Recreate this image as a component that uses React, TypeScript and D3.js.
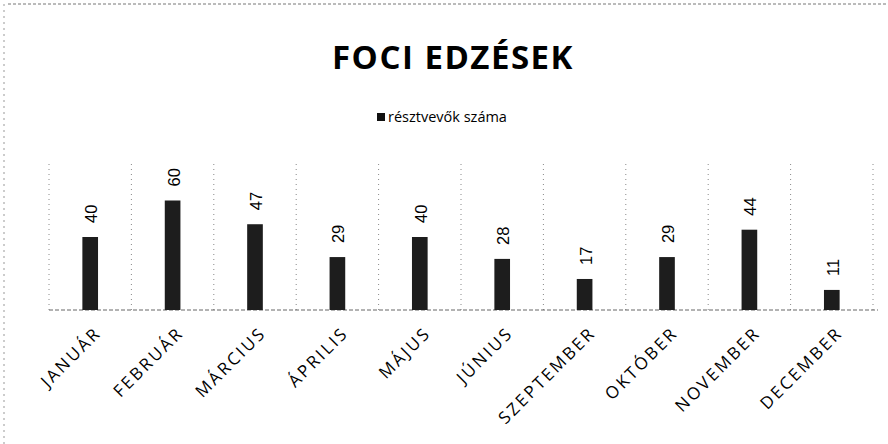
import React, { useEffect, useRef } from "react";
import * as d3 from "d3";

const months = [
  "JANUÁR",
  "FEBRUÁR",
  "MÁRCIUS",
  "ÁPRILIS",
  "MÁJUS",
  "JÚNIUS",
  "SZEPTEMBER",
  "OKTÓBER",
  "NOVEMBER",
  "DECEMBER",
];
const participants = [40, 60, 47, 29, 40, 28, 17, 29, 44, 11];
const seriesName = "résztvevők száma";
const title = "FOCI EDZÉSEK";

const App = () => {
  const svgRef = useRef<SVGSVGElement>(null);

  useEffect(() => {
    const svg = d3.select(svgRef.current);
    svg.selectAll("*").remove();

    const width = 888;
    const height = 444;
    const left = 49;
    const right = 873;
    const base = 310;
    const top = 164;
    const font = "'Open Sans', 'Noto Sans', sans-serif";

    const data = months.map((m, i) => ({ month: m, value: participants[i] }));

    const x = d3.scaleBand().domain(months).range([left, right]).padding(0);
    const y = d3.scaleLinear().domain([0, 80]).range([base, top]);
    const barW = x.bandwidth() * 0.19;

    svg.append("rect").attr("width", width).attr("height", height).attr("fill", "#fff");

    // scanned frame
    svg
      .append("line")
      .attr("x1", 8)
      .attr("x2", width)
      .attr("y1", 4)
      .attr("y2", 4)
      .attr("stroke", "#777")
      .attr("stroke-dasharray", "3,2");
    svg
      .append("line")
      .attr("x1", 4)
      .attr("x2", 4)
      .attr("y1", 4)
      .attr("y2", height)
      .attr("stroke", "#999")
      .attr("stroke-dasharray", "2,4");

    // title
    svg
      .append("text")
      .attr("x", 453)
      .attr("y", 69)
      .attr("text-anchor", "middle")
      .attr("font-family", font)
      .attr("font-weight", 700)
      .attr("font-size", 33)
      .attr("letter-spacing", 1.5)
      .attr("fill", "#000")
      .text(title);

    // legend
    svg
      .append("rect")
      .attr("x", 377)
      .attr("y", 113)
      .attr("width", 8)
      .attr("height", 8)
      .attr("fill", "#111");
    svg
      .append("text")
      .attr("x", 388)
      .attr("y", 122)
      .attr("font-family", font)
      .attr("font-size", 14.5)
      .attr("fill", "#000")
      .text(seriesName);

    // vertical dotted gridlines at category boundaries
    const bounds = months.map((m) => x(m) as number).concat([right]);
    svg
      .selectAll(".grid")
      .data(bounds)
      .join("line")
      .attr("class", "grid")
      .attr("x1", (d) => d)
      .attr("x2", (d) => d)
      .attr("y1", top)
      .attr("y2", base)
      .attr("stroke", "#888")
      .attr("stroke-dasharray", "1,4");

    // baseline
    svg
      .append("line")
      .attr("x1", left)
      .attr("x2", right + 5)
      .attr("y1", base)
      .attr("y2", base)
      .attr("stroke", "#666")
      .attr("stroke-dasharray", "4,2");

    // bars
    svg
      .selectAll(".bar")
      .data(data)
      .join("rect")
      .attr("class", "bar")
      .attr("x", (d) => (x(d.month) as number) + x.bandwidth() / 2 - barW / 2)
      .attr("y", (d) => y(d.value))
      .attr("width", barW)
      .attr("height", (d) => base - y(d.value))
      .attr("fill", "#1d1d1d");

    // value labels, rotated
    svg
      .selectAll(".val")
      .data(data)
      .join("text")
      .attr("class", "val")
      .attr(
        "transform",
        (d) =>
          `translate(${(x(d.month) as number) + x.bandwidth() / 2 + 1},${y(d.value) - 14}) rotate(-90)`
      )
      .attr("dy", "0.36em")
      .attr("font-family", "'Liberation Sans', Arial, sans-serif")
      .attr("font-size", 16.5)
      .attr("fill", "#000")
      .text((d) => d.value);

    // category labels, -45deg
    svg
      .selectAll(".cat")
      .data(data)
      .join("text")
      .attr("class", "cat")
      .attr(
        "transform",
        (d) => `translate(${(x(d.month) as number) + x.bandwidth() / 2 + 3},${base + 15}) rotate(-45)`
      )
      .attr("text-anchor", "end")
      .attr("dy", "0.75em")
      .attr("font-family", font)
      .attr("font-size", 17)
      .attr("font-weight", 500)
      .attr("letter-spacing", 2.5)
      .attr("fill", "#000")
      .text((d) => d.month);
  }, []);

  return (
    <svg
      ref={svgRef}
      width={888}
      height={444}
      style={{ display: "block", position: "absolute", left: 0, top: 0 }}
    />
  );
};

export default App;
